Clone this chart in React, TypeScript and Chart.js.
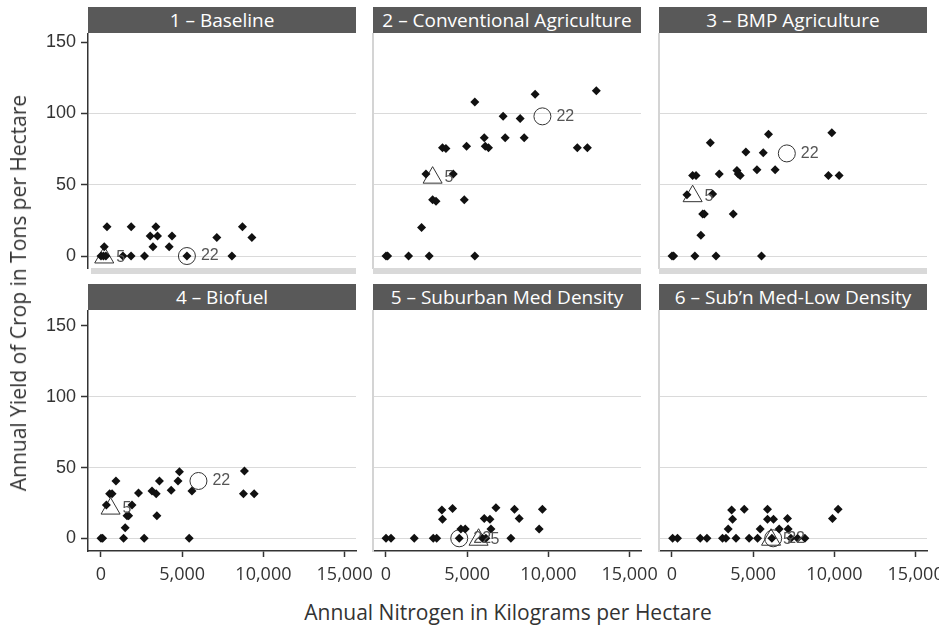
import React, { useEffect, useRef } from "react";
import { Chart, registerables } from "chart.js";

Chart.register(...registerables);

// ---------- data ----------
const panelTitles = [
  "1 – Baseline",
  "2 – Conventional Agriculture",
  "3 – BMP Agriculture",
  "4 – Biofuel",
  "5 – Suburban Med Density",
  "6 – Sub’n Med-Low Density",
];

const xTickValues = [0, 5000, 10000, 15000];
const xTickLabels = ["0", "5,000", "10,000", "15,000"];
const yTickValues = [0, 50, 100, 150];
const yTickLabels = ["0", "50", "100", "150"];

const xTitle = "Annual Nitrogen in Kilograms per Hectare";
const yTitle = "Annual Yield of Crop in Tons per Hectare";

const p1X = [0, 150, 300, 200, 370, 1350, 1850, 2680, 5290, 8060, 1860, 3380, 8710, 3030, 3480, 4370, 7130, 9290, 3200, 4200];
const p1Y = [0, 0, 0, 6.5, 20.5, 0, 0, 0, 0, 0, 20.5, 20.5, 20.5, 14, 14, 14, 13, 13, 6.5, 6.5];

const p2X = [0, 100, 1390, 2660, 5470, 2190, 2870, 3080, 4820, 2460, 4140, 3480, 3690, 4960, 6050, 6110, 6310, 7340, 8510, 7210, 8260, 5470, 9180, 12950, 11780, 12400];
const p2Y = [0, 0, 0, 0, 0, 20, 39.5, 38.5, 39.5, 57.5, 57.5, 76, 75.5, 77, 83, 77, 76, 83, 83, 98, 96.5, 108, 113.5, 116, 76, 76];

const p3X = [0, 100, 1410, 2710, 5510, 1780, 1890, 1990, 3770, 920, 2500, 1270, 1480, 2910, 4000, 4080, 4200, 5230, 6350, 9630, 10290, 4550, 5620, 2360, 5940, 9840];
const p3Y = [0, 0, 0, 0, 0, 14.5, 29.5, 29.5, 29.5, 43, 43.5, 56.5, 56.5, 57.5, 60, 57.5, 56.5, 60.5, 60.5, 56.5, 56.5, 73, 72.5, 79.5, 85.5, 86.5];

const p4X = [0, 100, 1390, 2660, 5430, 1490, 1600, 1700, 3440, 330, 1910, 530, 680, 2310, 3140, 3400, 4320, 5600, 8770, 9430, 920, 3600, 4740, 4830, 8830];
const p4Y = [0, 0, 0, 0, 0, 7.5, 16, 16, 16, 23.5, 23.5, 31.5, 31.5, 32, 33.5, 31.5, 34, 33.5, 31.5, 31.5, 40.5, 40.5, 40.5, 47, 47.5];

const p5X = [0, 310, 1740, 2910, 3120, 4510, 5940, 6150, 7690, 4610, 4880, 6460, 9430, 3480, 6050, 6400, 8200, 3440, 4100, 6770, 7910, 9630];
const p5Y = [0, 0, 0, 0, 0, 0, 0, 0, 0, 6.5, 6.5, 6.5, 6.5, 13.5, 14, 13.5, 14, 20, 21, 21.5, 20.5, 20.5];

const p6X = [40, 340, 1740, 2150, 3110, 3320, 3940, 4750, 5270, 6150, 7320, 7730, 8180, 3460, 5430, 6600, 7150, 3730, 5880, 6250, 7110, 9880, 3670, 4450, 5880, 10230];
const p6Y = [0, 0, 0, 0, 0, 0, 0, 0, 0, 0, 0, 0, 0, 6.5, 6.5, 6.5, 6.5, 13.5, 13.5, 13.5, 14, 14, 20, 20.5, 20.5, 20.5];

const triangle5X = [200, 2870, 1270, 590, 5700, 6100];
const triangle5Y = [-1, 55, 42, 21, -1, -1];
const circle22X = [5290, 9630, 7070, 6000, 4510, 6230];
const circle22Y = [0, 98, 72, 40.5, 0, 0];
const markerLabels = ["5", "22"];

const panelXs = [p1X, p2X, p3X, p4X, p5X, p6X];
const panelYs = [p1Y, p2Y, p3Y, p4Y, p5Y, p6Y];

// ---------- layout ----------
const COL_LEFT = [88, 373, 659];
const PLOT_W = 268;
const ROW_TOP = [33, 310];
const ROW_BOTTOM = [268, 551];
const Y_RANGE = [
  [-8.4, 156.5],
  [-8.97, 161.3],
];
const X_MIN = -800;
const X_MAX = 15700;
const Y_AXIS_W = 58;
const X_AXIS_H = 44;
const BAND_H = 7;
const HEADER_H = 26;

const decorPlugin = {
  id: "decor",
  afterDatasetsDraw(chart: any) {
    const o = chart.options.plugins.decor || {};
    const ctx = chart.ctx;
    const a = chart.chartArea;
    ctx.save();
    if (o.band) {
      ctx.fillStyle = "#d9d9d9";
      ctx.fillRect(a.left + (o.bandInset || 0), a.bottom, a.right - a.left - (o.bandInset || 0), BAND_H - 1);
    }
    ctx.font = '16px "Liberation Sans", Arial, sans-serif';
    ctx.fillStyle = "#555";
    ctx.textBaseline = "middle";
    ctx.textAlign = "left";
    for (let i = 1; i <= 2; i++) {
      const meta = chart.getDatasetMeta(i);
      const el = meta.data[0];
      if (!el) continue;
      const off = i === 1 ? 12 : 14;
      ctx.fillText(chart.data.datasets[i].label, el.x + off, el.y);
    }
    ctx.restore();
  },
};

function Panel({ idx }: { idx: number }) {
  const ref = useRef<HTMLCanvasElement | null>(null);
  const row = Math.floor(idx / 3);
  const col = idx % 3;
  const first = col === 0;
  const bottom = row === 1;
  const yW = first ? Y_AXIS_W : 2;
  const rightPad = bottom ? (col === 2 ? 12 : 30) : 0;
  const left = COL_LEFT[col] - yW;
  const top = ROW_TOP[row];
  const width = yW + PLOT_W + rightPad;
  const height = ROW_BOTTOM[row] - ROW_TOP[row] + (bottom ? X_AXIS_H : BAND_H);

  useEffect(() => {
    const xs = panelXs[idx];
    const ys = panelYs[idx];
    const chart = new Chart(ref.current as HTMLCanvasElement, {
      type: "scatter",
      data: {
        datasets: [
          {
            label: "points",
            data: xs.map((x, i) => ({ x, y: ys[i] })),
            pointStyle: "rectRot",
            pointRadius: 4.5,
            backgroundColor: "#111",
            borderColor: "#111",
            borderWidth: 0,
          },
          {
            label: markerLabels[0],
            data: [{ x: triangle5X[idx], y: triangle5Y[idx] }],
            pointStyle: "triangle",
            pointRadius: 11,
            backgroundColor: "rgba(0,0,0,0)",
            borderColor: "#333",
            borderWidth: 1,
          },
          {
            label: markerLabels[1],
            data: [{ x: circle22X[idx], y: circle22Y[idx] }],
            pointStyle: "circle",
            pointRadius: 8.5,
            backgroundColor: "rgba(0,0,0,0)",
            borderColor: "#333",
            borderWidth: 1,
          },
        ],
      },
      options: {
        responsive: false,
        animation: false,
        events: [],
        layout: {
          autoPadding: false,
          padding: { top: 0, left: 0, right: rightPad, bottom: bottom ? 0 : BAND_H },
        },
        plugins: {
          legend: { display: false },
          tooltip: { enabled: false },
          decor: { band: !bottom, bandInset: first ? 3 : 0 },
        } as any,
        scales: {
          x: {
            type: "linear",
            display: bottom,
            min: X_MIN,
            max: X_MAX,
            afterBuildTicks: (s: any) => {
              s.ticks = xTickValues.map((v) => ({ value: v }));
            },
            afterFit: (s: any) => {
              s.height = bottom ? X_AXIS_H : 0;
              s.paddingLeft = 0;
              s.paddingRight = 0;
              s.paddingTop = 0;
              s.paddingBottom = 0;
            },
            ticks: {
              autoSkip: false,
              maxRotation: 0,
              minRotation: 0,
              padding: 7,
              color: "#333",
              font: { family: '"Open Sans", sans-serif', size: 18 },
              callback: (_v: any, i: number) => xTickLabels[i],
            },
            grid: {
              drawOnChartArea: false,
              drawTicks: true,
              tickLength: 6,
              tickColor: "#333",
              tickWidth: 1.5,
            },
            border: { display: true, color: "#333", width: 1.5 },
          },
          y: {
            type: "linear",
            min: Y_RANGE[row][0],
            max: Y_RANGE[row][1],
            afterBuildTicks: (s: any) => {
              s.ticks = yTickValues.map((v) => ({ value: v }));
            },
            afterFit: (s: any) => {
              s.width = yW;
              s.paddingLeft = 0;
              s.paddingRight = 0;
              s.paddingTop = 0;
              s.paddingBottom = 0;
            },
            ticks: {
              display: first,
              padding: 5,
              color: "#333",
              font: { family: '"Liberation Sans", Arial, sans-serif', size: 18 },
              callback: (_v: any, i: number) => yTickLabels[i],
            },
            grid: {
              color: (c: any) => (c.tick && c.tick.value === 150 ? "rgba(0,0,0,0)" : "#dadada"),
              lineWidth: 1,
              drawTicks: first,
              tickLength: 7,
              tickColor: "#333",
              tickWidth: 1.5,
            },
            border: first
              ? { display: true, color: "#333", width: 1.5 }
              : { display: true, color: "#d4d4d4", width: 2 },
          },
        },
      },
      plugins: [decorPlugin],
    } as any);
    return () => chart.destroy();
  }, [idx]);

  return (
    <>
      <div
        style={{
          position: "absolute",
          left: COL_LEFT[col],
          top: top - HEADER_H,
          width: PLOT_W,
          height: HEADER_H,
          background: "#595959",
          color: "#fff",
          fontFamily: '"Open Sans", sans-serif',
          fontSize: 19,
          lineHeight: HEADER_H + "px",
          textAlign: "center",
          whiteSpace: "nowrap",
          overflow: "hidden",
        }}
      >
        {panelTitles[idx]}
      </div>
      <canvas
        ref={ref}
        width={width}
        height={height}
        style={{ position: "absolute", left, top, width, height }}
      />
    </>
  );
}

export default function App() {
  return (
    <div
      style={{
        position: "absolute",
        left: 0,
        top: 0,
        width: 942,
        height: 627,
        overflow: "hidden",
        background: "#fff",
      }}
    >
      {[0, 1, 2, 3, 4, 5].map((i) => (
        <Panel key={i} idx={i} />
      ))}
      <div
        style={{
          position: "absolute",
          left: 508,
          top: 612,
          transform: "translate(-50%, -50%)",
          whiteSpace: "nowrap",
          fontFamily: '"Open Sans", sans-serif',
          fontSize: 21,
          color: "#333",
          lineHeight: "24px",
        }}
      >
        {xTitle}
      </div>
      <div
        style={{
          position: "absolute",
          left: 18,
          top: 293,
          transform: "translate(-50%, -50%) rotate(-90deg)",
          whiteSpace: "nowrap",
          fontFamily: '"Open Sans", sans-serif',
          fontSize: 21,
          color: "#333",
          lineHeight: "24px",
        }}
      >
        {yTitle}
      </div>
    </div>
  );
}
